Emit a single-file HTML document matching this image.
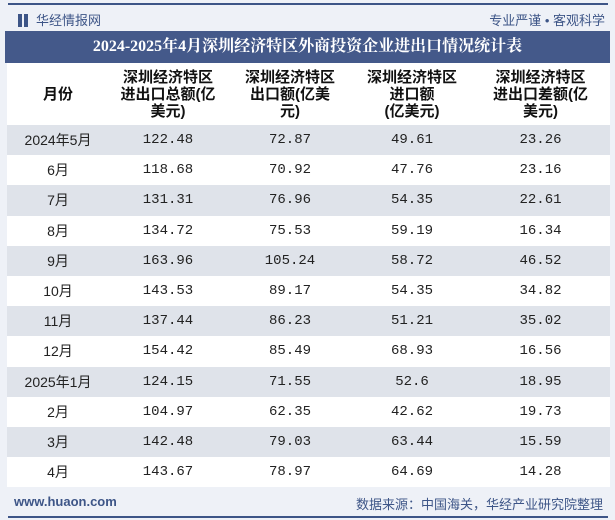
<!DOCTYPE html>
<html><head><meta charset="utf-8"><style>
body{margin:0;width:615px;height:520px;background:#fff;position:relative;overflow:hidden;font-family:"Liberation Sans","Noto Sans CJK SC",sans-serif}
.bg{position:absolute;left:0;top:0;width:615px;height:520px;background:#eef1f7}
.topline{position:absolute;left:8px;top:3px;width:600px;height:2px;background:#3d5587}
.botline{position:absolute;left:8px;top:516px;width:600px;height:2px;background:#3d5587}
.logo{position:absolute;left:18px;top:10px;font-size:13px;color:#3d5587}
.logo span.ic{display:inline-block;width:4px;height:13px;background:#3d5587;vertical-align:-2px;margin-right:2px}
.logo span.ic2{display:inline-block;width:4px;height:13px;background:#3d5587;vertical-align:-2px;margin-right:8px}
.slogan{position:absolute;right:10px;top:10px;font-size:13px;color:#3d5587}
.title{position:absolute;left:5px;top:31px;width:605px;height:32px;background:#44598a;color:#fff;font-weight:bold;font-size:16px;line-height:32px;text-align:center;font-family:"Liberation Serif","Noto Serif CJK SC",serif}
table{position:absolute;left:7px;top:63px;width:603px;border-collapse:collapse;background:#fff}
th{font-weight:bold;font-size:15px;line-height:17px;height:62px;padding:0;color:#111;font-family:"Liberation Sans","Noto Sans CJK SC",sans-serif}
td{height:30.2px;padding:0;text-align:center;font-size:14px;color:#222;font-family:"Liberation Mono","Noto Sans CJK SC",monospace}
tr.g td{background:#dfe3ea}
.foot-l{position:absolute;left:14px;top:494px;font-size:13px;color:#3d5587;font-weight:bold}
.foot-r{position:absolute;right:12px;top:494px;font-size:13px;color:#3d5587}
</style></head><body>
<div class="bg"></div>
<div class="topline"></div>
<div class="logo"><span class="ic"></span><span class="ic2"></span>华经情报网</div>
<div class="slogan">专业严谨 • 客观科学</div>
<div class="title">2024-2025年4月深圳经济特区外商投资企业进出口情况统计表</div>
<table>
<colgroup><col style="width:102px"><col style="width:118px"><col style="width:126px"><col style="width:118px"><col style="width:139px"></colgroup>
<thead><tr>
<th>月份</th>
<th>深圳经济特区<br>进出口总额(亿<br>美元)</th>
<th>深圳经济特区<br>出口额(亿美<br>元)</th>
<th>深圳经济特区<br>进口额<br>(亿美元)</th>
<th>深圳经济特区<br>进出口差额(亿<br>美元)</th>
</tr></thead>
<tbody id="tb"></tbody>
</table>
<div class="foot-l">www.huaon.com</div>
<div class="foot-r">数据来源：中国海关，华经产业研究院整理</div>
<div class="botline"></div>
<script>
const months=["2024年5月","6月","7月","8月","9月","10月","11月","12月","2025年1月","2月","3月","4月"];
const totalValues=["122.48","118.68","131.31","134.72","163.96","143.53","137.44","154.42","124.15","104.97","142.48","143.67"];
const exportValues=["72.87","70.92","76.96","75.53","105.24","89.17","86.23","85.49","71.55","62.35","79.03","78.97"];
const importValues=["49.61","47.76","54.35","59.19","58.72","54.35","51.21","68.93","52.6","42.62","63.44","64.69"];
const balanceValues=["23.26","23.16","22.61","16.34","46.52","34.82","35.02","16.56","18.95","19.73","15.59","14.28"];
const tb=document.getElementById('tb');
const cols=[months,totalValues,exportValues,importValues,balanceValues];
const names=['month','total','export','import','balance'];
months.forEach((m,i)=>{
  const tr=document.createElement('tr');
  if(i%2===0)tr.className='g';
  
  
  cols.forEach((c,j)=>{
    const td=document.createElement('td');
    td.textContent=c[i];
    
    
    if(j===0)td.style.fontFamily='"Liberation Sans","Noto Sans CJK SC",sans-serif';
    tr.appendChild(td);
  });
  tb.appendChild(tr);
});
</script>
</body></html>
